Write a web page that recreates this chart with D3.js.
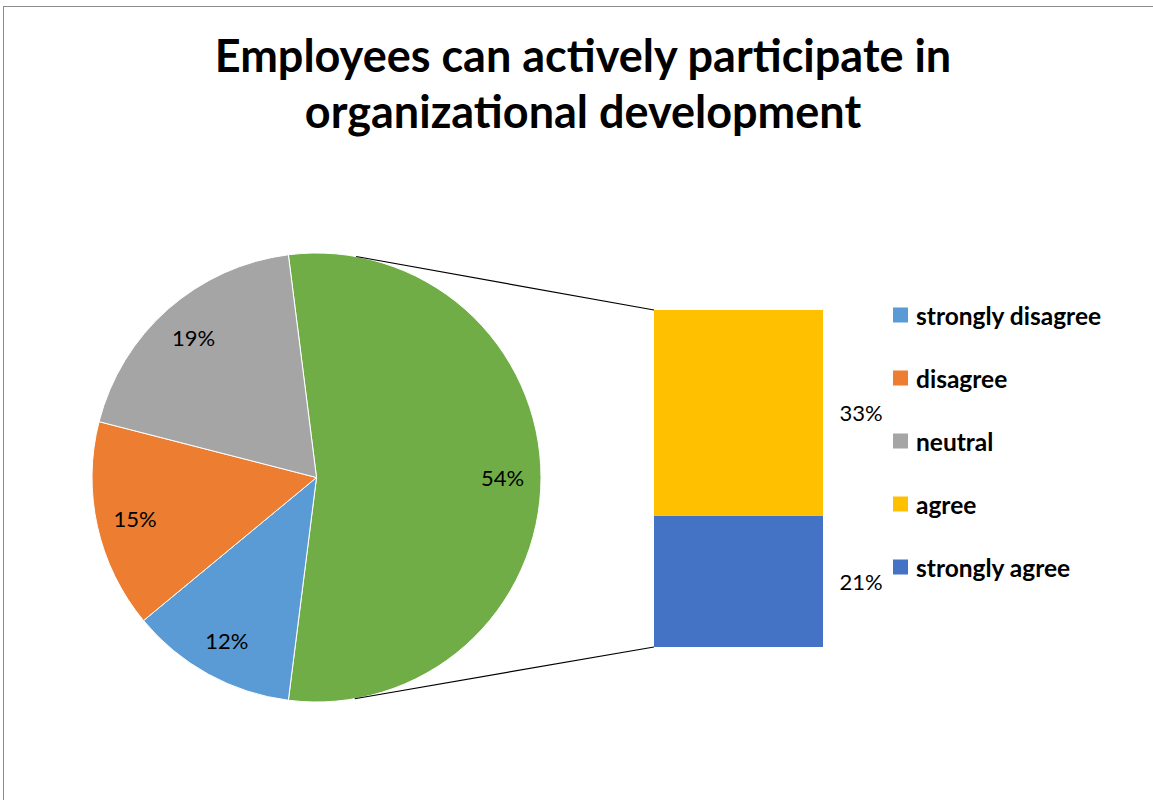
<!DOCTYPE html>
<html>
<head>
<meta charset="utf-8">
<script src="https://cdn.jsdelivr.net/npm/d3@7"></script>
<style>
  html, body { margin: 0; padding: 0; background: #fff; }
  svg { display: block; font-family: Lato, "Open Sans", sans-serif; }
</style>
</head>
<body>
<svg id="chart" width="1153" height="800"></svg>
<script>
// Pie slices (percent); the "other" slice is broken out into the bar on the right
const pieCategories = ["other", "strongly disagree", "disagree", "neutral"];
const pieValues = [54, 12, 15, 19];
const barCategories = ["strongly agree", "agree"];
const barValues = [21, 33];
const legendLabels = ["strongly disagree", "disagree", "neutral", "agree", "strongly agree"];
const titleLines = ["Employees can actively participate in", "organizational development"];

const colors = {
  "other": "#70AD47",
  "strongly disagree": "#5B9BD5",
  "disagree": "#ED7D31",
  "neutral": "#A5A5A5",
  "agree": "#FFC000",
  "strongly agree": "#4472C4"
};

const svg = d3.select("#chart");

// chart frame
svg.append("rect")
  .attr("x", 3.5).attr("y", 6.5)
  .attr("width", 1200).attr("height", 900)
  .attr("fill", "#fff").attr("stroke", "#8c8c8c").attr("stroke-width", 1);

// title
svg.append("g").selectAll("text").data(titleLines).join("text")
  .attr("x", 583).attr("y", (d, i) => 72 + i * 56)
  .attr("text-anchor", "middle")
  .attr("font-size", 45).attr("font-weight", "bold").attr("fill", "#000")
  .text(d => d);

// pie
const cx = 316.5, cy = 477.5, r = 224.5;
const otherShare = pieValues[0] / d3.sum(pieValues);
const startAngle = Math.PI / 2 - otherShare * Math.PI; // centre the broken-out slice on the right
const pie = d3.pie().sort(null).value(d => d.v)
  .startAngle(startAngle).endAngle(startAngle + 2 * Math.PI);
const arcs = pie(pieCategories.map((c, i) => ({ c, v: pieValues[i] })));
const arc = d3.arc().innerRadius(0).outerRadius(r);
const labelArc = d3.arc().innerRadius(186).outerRadius(186);

const pg = svg.append("g").attr("transform", `translate(${cx},${cy})`);
pg.selectAll("path").data(arcs).join("path")
  .attr("d", arc)
  .attr("fill", d => colors[d.data.c])
  .attr("stroke", "#fff").attr("stroke-width", 1);
pg.selectAll("text").data(arcs).join("text")
  .attr("transform", d => `translate(${labelArc.centroid(d)})`)
  .attr("text-anchor", "middle").attr("dominant-baseline", "central")
  .attr("font-size", 22).attr("fill", "#000")
  .text(d => d.data.v + "%");

// stacked bar of the broken-out slice
const barX = 654, barW = 169;
const y = d3.scaleLinear().domain([0, d3.sum(barValues)]).range([647, 310]);
let acc = 0;
const segs = barValues.map((v, i) => { const s = { c: barCategories[i], v, y0: acc, y1: acc + v }; acc += v; return s; });
svg.append("g").selectAll("rect").data(segs).join("rect")
  .attr("x", barX).attr("width", barW)
  .attr("y", d => y(d.y1)).attr("height", d => y(d.y0) - y(d.y1))
  .attr("fill", d => colors[d.c]);
svg.append("g").selectAll("text").data(segs).join("text")
  .attr("x", 861).attr("y", d => y((d.y0 + d.y1) / 2))
  .attr("text-anchor", "middle").attr("dominant-baseline", "central")
  .attr("font-size", 22).attr("fill", "#000")
  .text(d => d.v + "%");

// connector lines: tangents from the bar corners to the pie
function tangentPoint(px, py, side) {
  const dx = px - cx, dy = py - cy, d = Math.hypot(dx, dy);
  const base = Math.atan2(dy, dx);
  const off = Math.acos(r / d);
  const a = base + side * off;
  return [cx + r * Math.cos(a), cy + r * Math.sin(a)];
}
const corners = [[barX, y.range()[1], -1], [barX, y.range()[0], 1]];
svg.append("g").selectAll("line").data(corners).join("line")
  .each(function(d) {
    const t = tangentPoint(d[0], d[1], d[2]);
    d3.select(this).attr("x1", t[0]).attr("y1", t[1]).attr("x2", d[0]).attr("y2", d[1]);
  })
  .attr("stroke", "#000").attr("stroke-width", 1.2);

// legend
const lg = svg.append("g").selectAll("g").data(legendLabels).join("g")
  .attr("transform", (d, i) => `translate(893,${315 + i * 63})`);
lg.append("rect").attr("x", 0).attr("y", -7.5).attr("width", 15).attr("height", 15)
  .attr("fill", d => colors[d]);
lg.append("text").attr("x", 23).attr("y", 0)
  .attr("dominant-baseline", "central")
  .attr("font-size", 24.5).attr("font-weight", "bold").attr("fill", "#000")
  .text(d => d);
</script>
</body>
</html>
